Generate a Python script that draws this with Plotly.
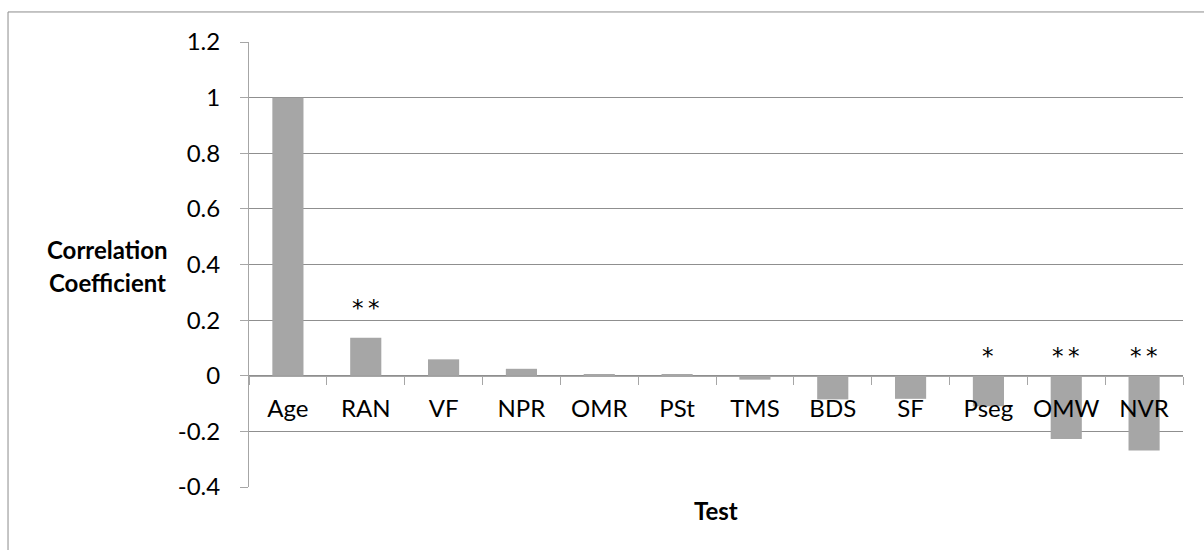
import plotly.graph_objects as go

categories = ["Age", "RAN", "VF", "NPR", "OMR", "PSt", "TMS", "BDS", "SF", "Pseg", "OMW", "NVR"]
correlation = [1.0, 0.137, 0.059, 0.025, 0.004, 0.003, -0.014, -0.085, -0.083, -0.11, -0.227, -0.269]
significance = ["", "**", "", "", "", "", "", "", "", "*", "**", "**"]
y_ticks = [-0.4, -0.2, 0, 0.2, 0.4, 0.6, 0.8, 1, 1.2]
y_tick_text = ["-0.4", "-0.2", "0", "0.2", "0.4", "0.6", "0.8", "1", "1.2"]

FONT = "Lato, 'Open Sans', sans-serif"
FS = 24
GRID = "#8f8f8f"
AXIS = "#a6a6a6"

fig = go.Figure()
fig.add_trace(go.Bar(
    x=categories, y=correlation, width=0.4,
    marker=dict(color="#a6a6a6", line=dict(width=0)),
    hoverinfo="x+y", showlegend=False,
))

annotations = []
for cat, val, sig in zip(categories, correlation, significance):
    if sig:
        annotations.append(dict(
            x=cat, y=(val + 0.12 if val > 0 else 0.085), xref="x", yref="y",
            text="\u2009".join(sig), showarrow=False, xanchor="center", yanchor="middle",
            yshift=-4,
            font=dict(family="DejaVu Sans", size=23, color="#000000"),
        ))

annotations += [
    dict(x=-0.151, y=0.534, xref="paper", yref="paper", text="<b>Correlation</b>",
         showarrow=False, xanchor="center", yanchor="middle",
         font=dict(family=FONT, size=FS, color="#000000")),
    dict(x=-0.151, y=0.459, xref="paper", yref="paper", text="<b>Coefficient</b>",
         showarrow=False, xanchor="center", yanchor="middle",
         font=dict(family=FONT, size=FS, color="#000000")),
    dict(x=0.5, y=-0.052, xref="paper", yref="paper", text="<b>Test</b>",
         showarrow=False, xanchor="center", yanchor="middle",
         font=dict(family=FONT, size=FS, color="#000000")),
]

fig.update_layout(
    width=1204, height=550,
    margin=dict(l=249, r=21, t=42, b=63, pad=0),
    paper_bgcolor="white", plot_bgcolor="white",
    font=dict(family=FONT, size=FS, color="#000000"),
    bargap=0.6,
    annotations=annotations,
    shapes=[dict(type="rect", xref="paper", yref="paper",
                 x0=-0.258, x1=1.05, y0=-0.2, y1=1.0675,
                 line=dict(color="#8c8c8c", width=1), fillcolor="rgba(0,0,0,0)", layer="below")],
)

fig.update_xaxes(
    type="category", range=[-0.5, len(categories) - 0.5],
    anchor="free", position=0.25,
    showline=True, linecolor=AXIS, linewidth=1,
    ticks="outside", tickson="boundaries", ticklen=8, tickcolor=AXIS, tickwidth=1,
    showgrid=False, zeroline=False,
    ticklabelstandoff=11,
    tickfont=dict(family=FONT, size=FS, color="#000000"),
)
fig.update_yaxes(
    range=[-0.4, 1.2], tickvals=y_ticks, ticktext=y_tick_text,
    showline=True, linecolor=AXIS, linewidth=1,
    ticks="outside", ticklen=8, tickcolor=AXIS, tickwidth=1,
    showgrid=True, gridcolor=GRID, gridwidth=1, zeroline=False,
    ticklabelstandoff=15,
    tickfont=dict(family=FONT, size=FS, color="#000000"),
)

fig.write_html("out.html")
